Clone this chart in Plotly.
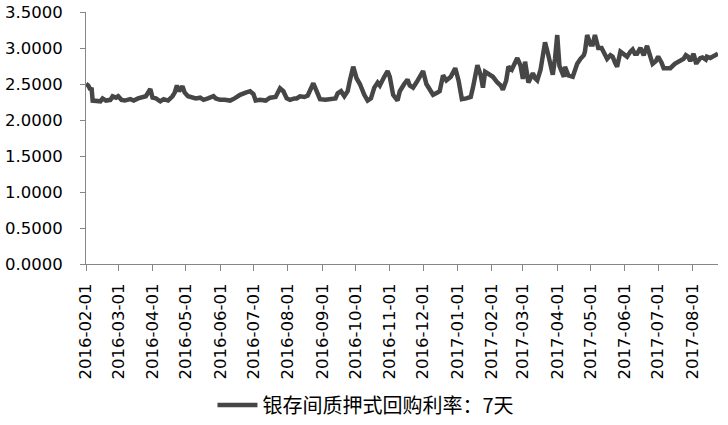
import pandas as pd
import plotly.graph_objects as go

# Data: day offset from 2016-02-01 and 7-day interbank pledged repo rate
start_date = "2016-02-01"
day_offsets = [0, 2, 4, 5, 6, 10, 13, 15, 18, 22, 24, 27, 29, 32, 35, 40, 43, 47, 51, 54,
               58, 60, 63, 67, 70, 74, 78, 80, 82, 84, 87, 89, 92, 96, 99, 103, 106, 110, 115, 117,
               121, 125, 130, 134, 139, 144, 148, 151, 153, 157, 162, 166, 171, 175, 178, 181, 184, 188, 190, 193,
               197, 200, 205, 208, 211, 216, 220, 225, 227, 230, 233, 236, 238, 241, 244, 247, 251, 254, 257, 260,
               263, 265, 269, 272, 274, 277, 281, 283, 287, 290, 292, 295, 298, 301, 304, 307, 310, 313, 317, 319,
               322, 325, 329, 331, 333, 336, 339, 343, 347, 349, 353, 356, 358, 360, 364, 367, 371, 374, 376, 379,
               381, 384, 389, 392, 394, 396, 399, 403, 405, 407, 410, 412, 414, 417, 421, 423, 425, 427, 429, 431,
               432, 435, 439, 441, 443, 446, 449, 450, 452, 455, 457, 459, 462, 465, 467, 470, 473, 475, 477, 479,
               482, 486, 488, 491, 493, 495, 497, 500, 503, 506, 509, 511, 514, 516, 519, 521, 524, 527, 531, 533,
               536, 539, 541, 543, 545, 548, 550, 551, 554, 556, 559, 560, 563, 566, 569, 570]
rates = [2.50, 2.48, 2.42, 2.45, 2.27, 2.26, 2.26, 2.30, 2.27, 2.28, 2.33, 2.31, 2.33, 2.28, 2.27, 2.29, 2.27, 2.30, 2.31, 2.33,
         2.43, 2.31, 2.30, 2.26, 2.29, 2.27, 2.33, 2.38, 2.48, 2.40, 2.47, 2.38, 2.33, 2.31, 2.30, 2.31, 2.28, 2.30, 2.33, 2.30,
         2.28, 2.28, 2.27, 2.30, 2.35, 2.38, 2.40, 2.36, 2.27, 2.28, 2.27, 2.31, 2.32, 2.44, 2.40, 2.30, 2.28, 2.30, 2.30, 2.33,
         2.32, 2.34, 2.51, 2.40, 2.29, 2.28, 2.29, 2.30, 2.37, 2.40, 2.33, 2.40, 2.55, 2.74, 2.58, 2.50, 2.35, 2.27, 2.30, 2.45,
         2.52, 2.48, 2.60, 2.68, 2.60, 2.35, 2.27, 2.40, 2.50, 2.56, 2.48, 2.45, 2.52, 2.60, 2.68, 2.50, 2.42, 2.35, 2.38, 2.40,
         2.62, 2.55, 2.60, 2.68, 2.72, 2.55, 2.29, 2.30, 2.32, 2.45, 2.76, 2.62, 2.45, 2.67, 2.63, 2.60, 2.52, 2.48, 2.42, 2.55,
         2.74, 2.70, 2.86, 2.75, 2.57, 2.81, 2.52, 2.65, 2.58, 2.55, 2.70, 2.95, 3.08, 2.90, 2.63, 2.85, 3.18, 2.75, 2.65, 2.60,
         2.74, 2.62, 2.60, 2.68, 2.78, 2.85, 2.90, 2.95, 3.18, 3.05, 3.05, 3.18, 3.00, 3.00, 2.95, 2.85, 2.90, 2.88, 2.80, 2.74,
         2.95, 2.90, 2.88, 2.95, 2.98, 2.92, 2.92, 3.00, 2.90, 3.03, 2.88, 2.78, 2.82, 2.88, 2.80, 2.72, 2.72, 2.72, 2.78, 2.80,
         2.82, 2.85, 2.90, 2.88, 2.82, 2.92, 2.80, 2.80, 2.86, 2.87, 2.84, 2.88, 2.86, 2.88, 2.90, 2.92]
series_name = "银存间质押式回购利率：7天"
tick_dates = ["2016-02-01", "2016-03-01", "2016-04-01", "2016-05-01", "2016-06-01", "2016-07-01",
              "2016-08-01", "2016-09-01", "2016-10-01", "2016-11-01", "2016-12-01", "2017-01-01",
              "2017-02-01", "2017-03-01", "2017-04-01", "2017-05-01", "2017-06-01", "2017-07-01",
              "2017-08-01"]
y_ticks = [0, 0.5, 1.0, 1.5, 2.0, 2.5, 3.0, 3.5]
end_offset = 570

dates = pd.to_datetime(start_date) + pd.to_timedelta(day_offsets, unit="D")
x_end = pd.to_datetime(start_date) + pd.Timedelta(days=end_offset)

fig = go.Figure()
fig.add_trace(go.Scatter(x=dates, y=rates, mode="lines", name=series_name,
                         line=dict(color="#464646", width=4.5), showlegend=True))

axis_font = dict(family="DejaVu Sans", size=16.5, color="#000000")
fig.update_layout(
    width=728, height=425,
    margin=dict(l=86, r=10, t=12, b=161, autoexpand=False),
    paper_bgcolor="white", plot_bgcolor="white",
    showlegend=True,
    legend=dict(orientation="h", x=0.443, xanchor="center",
                yref="container", y=0.047, yanchor="middle",
                font=dict(family="Noto Sans CJK SC", size=20, color="#000000"),
                itemwidth=40),
    xaxis=dict(type="date", range=[pd.to_datetime(start_date), x_end],
               tickvals=pd.to_datetime(tick_dates), ticktext=tick_dates,
               tickangle=-90, tickfont=axis_font, showgrid=False, zeroline=False,
               showline=True, linecolor="#868686", linewidth=1, automargin=False,
               ticks="outside", ticklen=6, tickcolor="#868686", ticklabelstandoff=6,
               ticklabeloverflow="allow"),
    yaxis=dict(range=[0, 3.5], tickvals=y_ticks, tickformat=".4f",
               tickfont=axis_font, showgrid=False, zeroline=False,
               showline=True, linecolor="#868686", linewidth=1, automargin=False,
               ticks="outside", ticklen=5, tickcolor="#868686", ticklabelstandoff=14,
               ticklabeloverflow="allow"),
)

fig.write_html("out.html", config={"displayModeBar": False},
               post_script="document.body.style.margin='0';")
